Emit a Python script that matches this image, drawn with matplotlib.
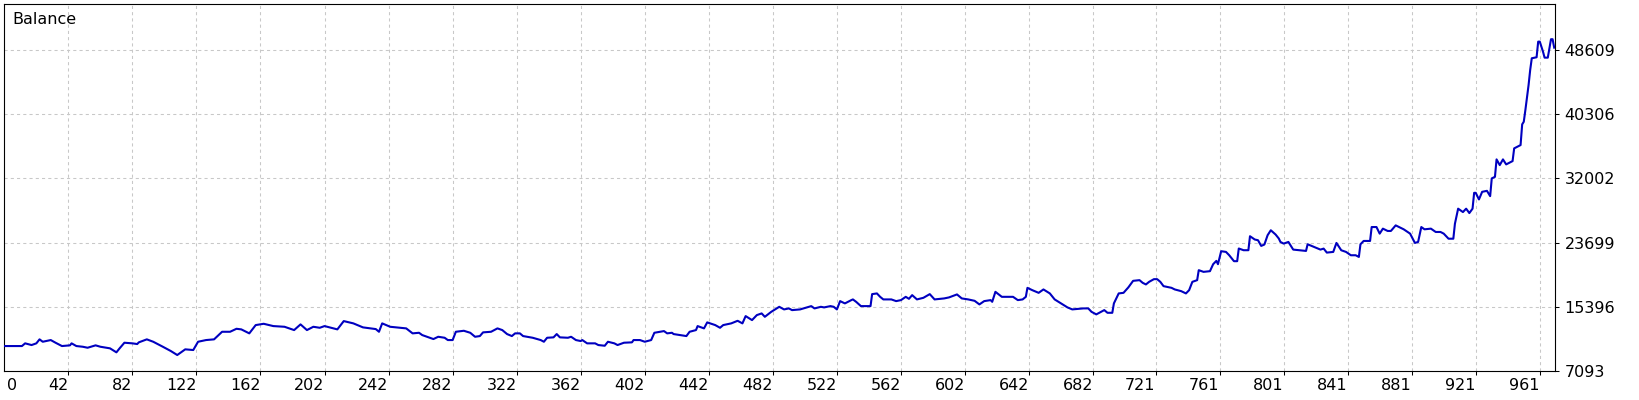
import matplotlib
matplotlib.use("Agg")
import matplotlib.pyplot as plt

# balance after each trade (trade number, balance)
trades = [0, 13, 15, 19, 22, 24, 26, 31, 34, 38, 43, 44, 47, 51, 54, 59, 62, 68, 72, 74,
          77, 82, 85, 86, 91, 95, 101, 106, 110, 115, 120, 123, 128, 133, 138, 143, 147, 150, 155, 159,
          164, 170, 177, 183, 187, 191, 195, 199, 202, 206, 210, 214, 220, 226, 234, 236, 238, 243,
          249, 253, 257, 261, 263, 266, 270, 273, 277, 279, 282, 284, 289, 293, 296, 299, 301, 306,
          310, 313, 316, 319, 321, 324, 326, 332, 337, 339, 341, 345, 347, 349, 354, 356, 359, 362,
          363, 366, 371, 373, 377, 379, 383, 385, 389, 394, 395, 399, 402, 406, 408, 414, 416, 419,
          420, 424, 428, 430, 434, 435, 439, 441, 446, 449, 451, 456, 460, 463, 465, 469, 472, 475,
          477, 481, 486, 489, 492, 494, 499, 506, 508,
          512, 514, 518, 520, 522, 524, 527, 531, 532, 534, 537, 543, 544, 547, 549, 551, 556, 559,
          562, 565, 567, 569, 572, 576, 580, 583, 589, 592, 597, 600, 604, 608, 611, 614, 618, 619,
          621, 625, 632, 635, 638, 640, 641, 644, 648, 651, 655, 658, 662, 666, 669, 676, 679, 681,
          684, 687, 689, 691, 694, 695, 698, 701, 704, 707, 711, 713, 715, 717, 720, 722, 724, 726,
          731, 733, 737, 740, 742, 744, 747, 748, 751, 755, 757, 759, 760, 762, 765, 767, 770, 772,
          773, 776, 779, 780, 783, 785, 787, 789, 791, 793, 796, 798, 799,
          801, 804, 807, 811, 815, 816, 820, 824, 826, 828, 832, 834, 837, 840, 843, 846, 848, 849,
          851, 855, 856, 859, 861, 863, 866, 868, 871, 876, 880, 883, 885, 887, 889, 893, 896, 899,
          901, 904, 907, 908, 910, 913, 915, 917, 919,
          920, 921, 923, 925, 928, 930, 931, 933, 934, 936, 938, 940, 944, 945, 949, 950, 951, 952,
          954, 955, 956, 959, 960, 961, 963, 964, 966, 968, 969, 970]

balance = [10320, 10320, 10669, 10450, 10669, 11186, 10876, 11095, 10750, 10320, 10411, 10669, 10320, 10230, 10101, 10411, 10230, 10024, 9507, 10024,
           10750, 10669, 10579, 10798, 11186, 10876, 10230, 9675, 9159, 9895, 9804, 10876, 11095, 11186, 12167, 12167, 12554, 12476, 11960, 13032,
           13200, 12903, 12813, 12386, 13122, 12386, 12813, 12683, 12903, 12683, 12476, 13548, 13252, 12735, 12515, 12167, 13252, 12813,
           12683, 12605, 11960, 12037, 11741, 11521, 11224, 11521, 11392, 11095, 11095, 12167, 12296, 12037, 11521, 11611, 12089, 12167,
           12605, 12386, 11870, 11611, 11960, 11960, 11611, 11392, 11095, 10876, 11392, 11444, 11870, 11444, 11392, 11521, 11095, 10966,
           11095, 10669, 10669, 10450, 10359, 10876, 10669, 10450, 10750, 10798, 11095, 11095, 10876, 11095, 12037, 12257, 11960, 12037,
           11870, 11741, 11611, 12167, 12386, 12903, 12605, 13380, 13032, 12683, 13032, 13252, 13587, 13252, 14194, 13677, 14323, 14542,
           14103, 14748, 15396, 15058, 15187, 14968, 15058, 15485, 15187,
           15396, 15318, 15486, 15396, 15060, 16132, 15835, 16261, 16351, 16042, 15486, 15486, 17035, 17126, 16687, 16351, 16351, 16132,
           16261, 16687, 16429, 16906, 16351, 16558, 17035, 16351, 16480, 16610, 16997, 16480, 16351, 16171, 15706, 16132, 16261, 16042,
           17332, 16687, 16687, 16261, 16351, 16687, 17849, 17552, 17203, 17642, 17126, 16351, 15835, 15318, 15060, 15189, 15189, 14751,
           14415, 14751, 14970, 14621, 14621, 15835, 17126, 17203, 17900, 18753, 18844, 18494, 18288, 18624, 18972, 18972, 18624, 18068,
           17849, 17642, 17423, 17126, 17552, 18624, 18844, 20134, 19915, 20005, 20909, 21335, 20909, 22587, 22497, 22071, 21296, 21296,
           22936, 22716, 22716, 24524, 24098, 24007, 23271, 23452, 24653, 25298, 24743, 24227, 23788,
           23570, 23785, 22795, 22709, 22623, 23484, 23140, 22795, 22924, 22407, 22494, 23656, 22709, 22494, 22063, 22063, 21848, 23484,
           23914, 23914, 25713, 25713, 24860, 25505, 25204, 25204, 25928, 25418, 24860, 23656, 23785, 25713, 25418, 25505, 25074, 25074,
           24860, 24204, 24204, 26144, 28088, 27649, 28088, 27520, 28088,
           30137, 30137, 29282, 30267, 30396, 29710, 32002, 32209, 34463, 33724, 34463, 33815, 34242, 35887, 36314, 38995, 39332, 40847,
           44084, 46027, 47542, 47671, 49692, 49692, 48397, 47620, 47620, 50005, 50005, 48915]

x_ticks = [0, 42, 82, 122, 162, 202, 242, 282, 322, 362, 402, 442, 482, 522, 562, 602,
           642, 682, 721, 761, 801, 841, 881, 921, 961]
y_ticks = [7093, 15396, 23699, 32002, 40306, 48609]

plt.rcParams['font.family'] = ['DejaVu Sans']
fs = 11.5

fig = plt.figure(figsize=(16.4, 4), dpi=100)
ax = fig.add_axes([4 / 1640, 29 / 400, 1551 / 1640, 367 / 400])

ax.plot(trades, balance, color='#0000c0', lw=1.5, zorder=3)

ax.set_xlim(1.8, 970.5)
ax.set_ylim(7093, 54560)

# x labels sit just left of their tick, like the terminal draws them
ax.set_xticks(x_ticks[1:])
ax.set_xticklabels([str(v) for v in x_ticks[1:]], ha='right', fontsize=fs)
ax.annotate(str(x_ticks[0]), xy=(0, 0), xycoords='axes fraction', xytext=(3, -7),
            textcoords='offset pixels', ha='left', va='top', fontsize=fs)

ax.yaxis.tick_right()
ax.set_yticks(y_ticks)
ax.set_yticklabels([str(v) for v in y_ticks], fontsize=fs)

ax.tick_params(axis='both', direction='out', length=3, width=0.75, color='black')
ax.tick_params(axis='x', pad=2)
ax.tick_params(axis='y', pad=4)

ax.grid(True, color='#c8c8c8', lw=0.75, linestyle=(0, (3, 3)))
ax.set_axisbelow(True)
for s in ax.spines.values():
    s.set_color('black')
    s.set_linewidth(0.8)

ax.annotate('Balance', xy=(0, 1), xycoords='axes fraction', xytext=(8, -8),
            textcoords='offset pixels', ha='left', va='top', fontsize=fs)

fig.savefig('out.png', dpi=100)
